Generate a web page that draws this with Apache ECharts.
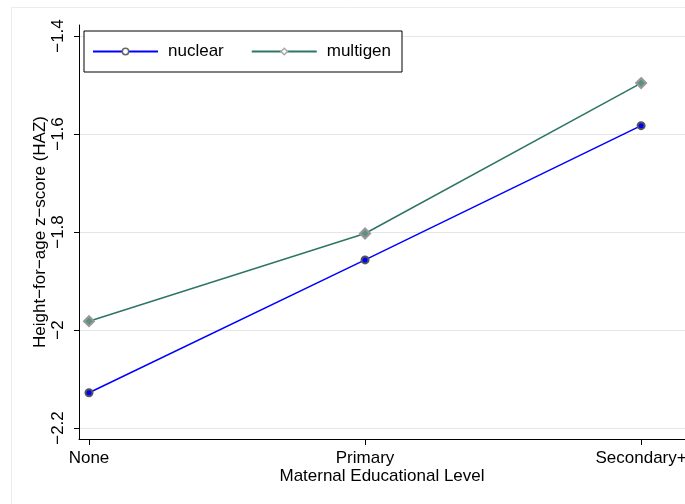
<!DOCTYPE html>
<html>
<head>
<meta charset="utf-8">
<script src="https://cdn.jsdelivr.net/npm/echarts@6/dist/echarts.min.js"></script>
<style>
html,body{margin:0;padding:0;background:#fff;overflow:hidden;}
#chart{position:absolute;left:0;top:0;width:685px;height:504px;}
</style>
</head>
<body>
<div id="chart"></div>
<script>
var categories = ['None', 'Primary', 'Secondary+'];
var nuclear = [-2.128, -1.857, -1.583];
var multigen = [-1.982, -1.803, -1.496];
var yTicks = [-2.2, -2.0, -1.8, -1.6, -1.4];
var xTicks = [0, 1, 2];
var seriesNames = ['nuclear', 'multigen'];
var yTitle = 'Height\u2212for\u2212age z\u2212score (HAZ)';
var xTitle = 'Maternal Educational Level';

function fmtY(v) {
  var s = (Math.round(v * 10) / 10).toString();
  return s.replace('-', '\u2212');
}
var FONT = '"Liberation Sans", Arial, Helvetica, sans-serif';

var chart = echarts.init(document.getElementById('chart'), null, {renderer: 'canvas', width: 685, height: 504});
var option = {
  backgroundColor: '#ffffff',
  animation: false,
  textStyle: {fontFamily: FONT},
  graphic: [{
    type: 'rect',
    shape: {x: 11.5, y: 7.5, width: 800, height: 600},
    style: {fill: 'none', stroke: '#ececec', lineWidth: 1},
    silent: true, z: -10
  }],
  legend: {
    left: 84, top: 31,
    padding: [12, 11, 12, 8],
    itemWidth: 65, itemHeight: 8,
    itemGap: 27,
    borderColor: '#000', borderWidth: 1,
    backgroundColor: '#fff',
    textStyle: {fontSize: 17, color: '#000', fontFamily: FONT, padding: [0, 0, 0, 5]},
    data: [
      {name: seriesNames[0], itemStyle: {color: '#ffffff', borderColor: '#666666', borderWidth: 1.5}},
      {name: seriesNames[1], itemStyle: {color: '#ffffff', borderColor: '#aaaaaa', borderWidth: 1.5}}
    ]
  },
  grid: [
    {left: 79, right: 0, top: 25, bottom: 65, containLabel: false, outerBoundsMode: 'none'},
    {left: 79, right: 0, top: 36, bottom: 76, containLabel: false, outerBoundsMode: 'none'}
  ],
  xAxis: [{
    type: 'value', gridIndex: 0,
    min: -0.0362, max: 2.159,
    axisLine: {show: true, onZero: false, lineStyle: {color: '#000', width: 1}},
    axisTick: {show: true, length: 6, customValues: xTicks, lineStyle: {color: '#000'}},
    axisLabel: {show: true, customValues: xTicks, margin: 11, fontSize: 17, color: '#000', fontFamily: FONT,
      hideOverlap: false,
      formatter: function (v) { return categories[Math.round(v)]; }},
    splitLine: {show: false},
    name: xTitle, nameLocation: 'middle', nameGap: 29, nameMoveOverlap: false,
    nameTextStyle: {fontSize: 17, color: '#000', fontFamily: FONT}
  }, {
    type: 'value', gridIndex: 1, min: 0, max: 1, show: false
  }],
  yAxis: [{
    type: 'value', gridIndex: 0,
    min: -2.22245, max: -1.37755,
    axisLine: {show: true, onZero: false, lineStyle: {color: '#000', width: 1}},
    axisTick: {show: true, length: 5, customValues: yTicks, lineStyle: {color: '#000'}},
    axisLabel: {show: true, customValues: yTicks, rotate: 90, margin: 12, fontSize: 17, color: '#000', fontFamily: FONT,
      formatter: fmtY},
    splitLine: {show: false},
    name: yTitle, nameLocation: 'middle', nameGap: 30, nameRotate: 90, nameMoveOverlap: false,
    nameTextStyle: {fontSize: 17, color: '#000', fontFamily: FONT}
  }, {
    type: 'value', gridIndex: 1,
    min: -2.2, max: -1.4, interval: 0.2,
    axisLine: {show: false}, axisTick: {show: false}, axisLabel: {show: false},
    splitLine: {show: true, lineStyle: {color: '#e6e6e6', width: 1}}
  }],
  series: [{
    name: seriesNames[0], type: 'line',
    xAxisIndex: 0, yAxisIndex: 0,
    data: nuclear.map(function (v, i) { return [xTicks[i], v]; }),
    symbol: 'circle', symbolSize: 7,
    lineStyle: {color: '#0000ff', width: 1.5},
    itemStyle: {color: '#0000ff', borderColor: '#555555', borderWidth: 2},
    z: 3
  }, {
    name: seriesNames[1], type: 'line',
    xAxisIndex: 0, yAxisIndex: 0,
    data: multigen.map(function (v, i) { return [xTicks[i], v]; }),
    symbol: 'diamond', symbolSize: 10,
    lineStyle: {color: '#2e7566', width: 1.5},
    itemStyle: {color: '#5e8f85', borderColor: '#999999', borderWidth: 2},
    z: 3
  }]
};
chart.setOption(option);
</script>
</body>
</html>
